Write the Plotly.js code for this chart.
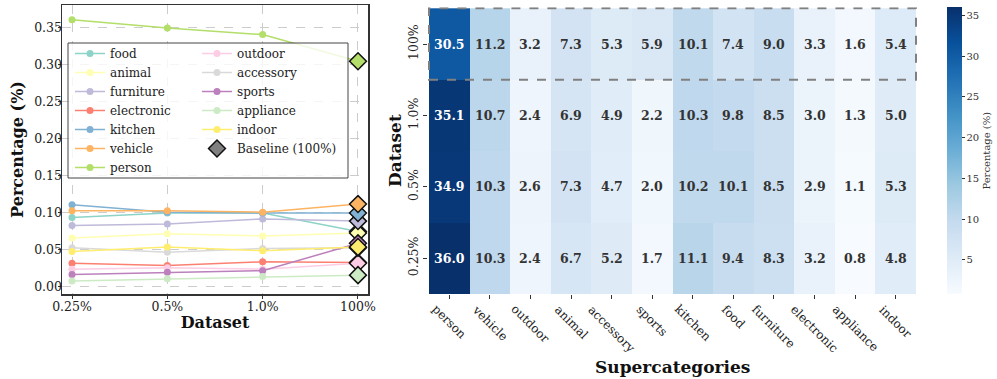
<!DOCTYPE html>
<html>
<head>
<meta charset="utf-8">
<script src="https://cdn.plot.ly/plotly-3.0.1.min.js"></script>
<style>html,body{margin:0;padding:0;background:#fff;}#chart{width:997px;height:379px;}</style>
</head>
<body>
<div id="chart"></div>
<script>
// ---- Left chart data (fraction of instances) ----
const datasets = ['0.25%', '0.5%', '1.0%', '100%'];
const lineCategories = ['food','animal','furniture','electronic','kitchen','vehicle','person',
                        'outdoor','accessory','sports','appliance','indoor'];
const lineColors = ['#8dd3c7','#ffffb3','#bebada','#fb8072','#80b1d3','#fdb462','#b3de69',
                    '#fccde5','#d9d9d9','#bc80bd','#ccebc5','#ffed6f'];
const food       = [0.094, 0.100, 0.100, 0.075];
const animal     = [0.066, 0.072, 0.069, 0.073];
const furniture  = [0.083, 0.085, 0.092, 0.089];
const electronic = [0.032, 0.029, 0.034, 0.033];
const kitchen    = [0.111, 0.101, 0.100, 0.100];
const vehicle    = [0.103, 0.103, 0.101, 0.112];
const person     = [0.361, 0.350, 0.341, 0.305];
const outdoor    = [0.024, 0.026, 0.024, 0.032];
const accessory  = [0.053, 0.047, 0.052, 0.053];
const sports     = [0.017, 0.020, 0.022, 0.059];
const appliance  = [0.008, 0.011, 0.014, 0.016];
const indoor     = [0.048, 0.054, 0.049, 0.054];
const lineSeries = [food, animal, furniture, electronic, kitchen, vehicle, person,
                    outdoor, accessory, sports, appliance, indoor];

// ---- Heatmap data (percent) ----
const superCategories = ['person','vehicle','outdoor','animal','accessory','sports',
                         'kitchen','food','furniture','electronic','appliance','indoor'];
const heatRows = ['0.25%', '0.5%', '1.0%', '100%'];
const row025 = [36.0, 10.3, 2.4, 6.7, 5.2, 1.7, 11.1, 9.4, 8.3, 3.2, 0.8, 4.8];
const row05  = [34.9, 10.3, 2.6, 7.3, 4.7, 2.0, 10.2, 10.1, 8.5, 2.9, 1.1, 5.3];
const row10  = [35.1, 10.7, 2.4, 6.9, 4.9, 2.2, 10.3, 9.8, 8.5, 3.0, 1.3, 5.0];
const row100 = [30.5, 11.2, 3.2, 7.3, 5.3, 5.9, 10.1, 7.4, 9.0, 3.3, 1.6, 5.4];
const heatZ = [row025, row05, row10, row100];
const cbTicks = [5, 10, 15, 20, 25, 30, 35];

const SERIF = 'DejaVu Serif, serif';
const blues = [[0,'#f7fbff'],[0.125,'#deebf7'],[0.25,'#c6dbef'],[0.375,'#9ecae1'],
               [0.5,'#6baed6'],[0.625,'#4292c6'],[0.75,'#2171b5'],[0.875,'#08519c'],[1,'#08306b']];

// plot-area geometry (pixels)
const W = 997, H = 379, ML = 62, MR = 80, MT = 5, MB = 85;
const PW = W - ML - MR, PH = H - MT - MB;
const px = v => (v - ML) / PW;          // page x -> paper x
const py = v => (H - MB - v) / PH;      // page y -> paper y

const traces = [];
lineCategories.forEach((name, i) => {
  traces.push({
    type: 'scatter', mode: 'lines+markers', x: datasets, y: lineSeries[i], name: name,
    xaxis: 'x', yaxis: 'y',
    legend: i < 7 ? 'legend' : 'legend2',
    line: {color: lineColors[i], width: 1.5},
    marker: {color: lineColors[i], size: 7, symbol: 'circle'}
  });
});
traces.push({
  type: 'scatter', mode: 'markers', xaxis: 'x', yaxis: 'y', showlegend: false,
  x: lineSeries.map(() => datasets[3]), y: lineSeries.map(s => s[3]),
  marker: {symbol: 'diamond', size: 13, color: lineColors, line: {color: '#111', width: 1.5}},
  hoverinfo: 'skip'
});
traces.push({
  type: 'scatter', mode: 'markers', xaxis: 'x', yaxis: 'y', x: [null], y: [null],
  name: 'Baseline (100%)', legend: 'legend2',
  marker: {symbol: 'diamond', size: 13, color: '#808080', line: {color: '#111', width: 1.5}}
});
traces.push({
  type: 'heatmap', xaxis: 'x2', yaxis: 'y2',
  x: superCategories, y: heatRows, z: heatZ,
  zmin: 0.8, zmax: 36.0, colorscale: blues, showscale: true,
  colorbar: {
    x: px(947), xanchor: 'left', xpad: 0, ypad: 0, thickness: 15, thicknessmode: 'pixels',
    len: 287/PH, lenmode: 'fraction', y: py(150.7), yanchor: 'middle',
    outlinewidth: 0, tickvals: cbTicks, ticks: 'outside', ticklen: 3, tickcolor: '#333',
    tickfont: {family: SERIF, size: 10, color: '#333'},
    title: {text: 'Percentage (%)', side: 'right', font: {family: SERIF, size: 10, color: '#333'}}
  }
});

const annotations = [];
heatRows.forEach((r, ri) => {
  superCategories.forEach((c, ci) => {
    const v = heatZ[ri][ci];
    annotations.push({
      xref: 'x2', yref: 'y2', x: c, y: r, text: '<b>' + v.toFixed(1) + '</b>', showarrow: false,
      font: {family: SERIF, size: 12.5, color: v > 20 ? '#ffffff' : '#333333'}
    });
  });
});
// rotated category labels, centred under each tick (like matplotlib rotation=-45)
superCategories.forEach(c => {
  annotations.push({
    xref: 'x2', yref: 'paper', x: c, y: 0, yshift: -7, xanchor: 'center', yanchor: 'top',
    text: c, textangle: 45, showarrow: false, borderpad: 0,
    font: {family: SERIF, size: 12, color: '#222'}
  });
});
annotations.push({
  xref: 'paper', yref: 'paper', x: (px(428) + 1) / 2, y: py(367), xanchor: 'center', yanchor: 'middle',
  text: '<b>Supercategories</b>', showarrow: false,
  font: {family: SERIF, size: 17, color: '#111'}
});

const layout = {
  width: W, height: H,
  margin: {l: ML, r: MR, t: MT, b: MB},
  paper_bgcolor: '#fff', plot_bgcolor: '#fff',
  font: {family: SERIF, color: '#222'},
  showlegend: true,
  xaxis: {
    domain: [0, px(368)], anchor: 'y', type: 'category', range: [-0.105, 3.105],
    showline: true, mirror: true, linecolor: '#333', linewidth: 1.5,
    showgrid: true, gridcolor: '#cccccc', griddash: 'dash', gridwidth: 1,
    ticks: 'outside', ticklen: 3, tickcolor: '#333', ticklabelstandoff: -3,
    tickfont: {family: SERIF, size: 12.5, color: '#222'},
    title: {text: '<b>Dataset</b>', font: {family: SERIF, size: 16, color: '#111'}, standoff: 0},
    zeroline: false
  },
  yaxis: {
    domain: [0, 1], anchor: 'x', range: [-0.0095, 0.381],
    tickvals: [0, 0.05, 0.1, 0.15, 0.2, 0.25, 0.3, 0.35], tickformat: '.2f',
    showline: true, mirror: true, linecolor: '#333', linewidth: 1.5,
    showgrid: true, gridcolor: '#cccccc', griddash: 'dash', gridwidth: 1,
    ticks: 'outside', ticklen: 3, tickcolor: '#333', ticklabelstandoff: -7,
    tickfont: {family: SERIF, size: 12.5, color: '#222'},
    title: {text: '<b>Percentage (%)</b>', font: {family: SERIF, size: 16, color: '#111'}, standoff: 6},
    zeroline: false
  },
  xaxis2: {
    domain: [px(428), 1], anchor: 'y2', type: 'category',
    showgrid: false, zeroline: false, showline: false, showticklabels: false,
    ticks: 'outside', ticklen: 4, tickcolor: '#333'
  },
  yaxis2: {
    domain: [0, py(7.3)], anchor: 'x2', type: 'category',
    showgrid: false, zeroline: false, showline: false,
    ticks: 'outside', ticklen: 4, tickcolor: '#333', tickangle: -90,
    tickfont: {family: SERIF, size: 12.5, color: '#222'},
    title: {text: '<b>Dataset</b>', font: {family: SERIF, size: 17, color: '#111'}, standoff: 0}
  },
  legend: {
    x: px(70), y: py(39), xanchor: 'left', yanchor: 'top', bgcolor: 'rgba(0,0,0,0)',
    borderwidth: 0, font: {family: SERIF, size: 12, color: '#222'}
  },
  legend2: {
    x: px(197), y: py(39), xanchor: 'left', yanchor: 'top', bgcolor: 'rgba(0,0,0,0)',
    borderwidth: 0, font: {family: SERIF, size: 12, color: '#222'}
  },
  shapes: [
    {type: 'rect', xref: 'paper', yref: 'paper', x0: px(68), x1: px(348),
     y0: py(178), y1: py(43), layer: 'above',
     fillcolor: 'rgba(255,255,255,0.8)', line: {color: '#444', width: 1}},
    {type: 'rect', xref: 'x2', yref: 'y2', x0: -0.5, x1: 11.5, y0: 2.5, y1: 3.5,
     line: {color: '#808080', width: 2, dash: 'dash'}, layer: 'above'}
  ],
  annotations: annotations
};

Plotly.newPlot('chart', traces, layout, {displayModeBar: false, staticPlot: true});
</script>
</body>
</html>
